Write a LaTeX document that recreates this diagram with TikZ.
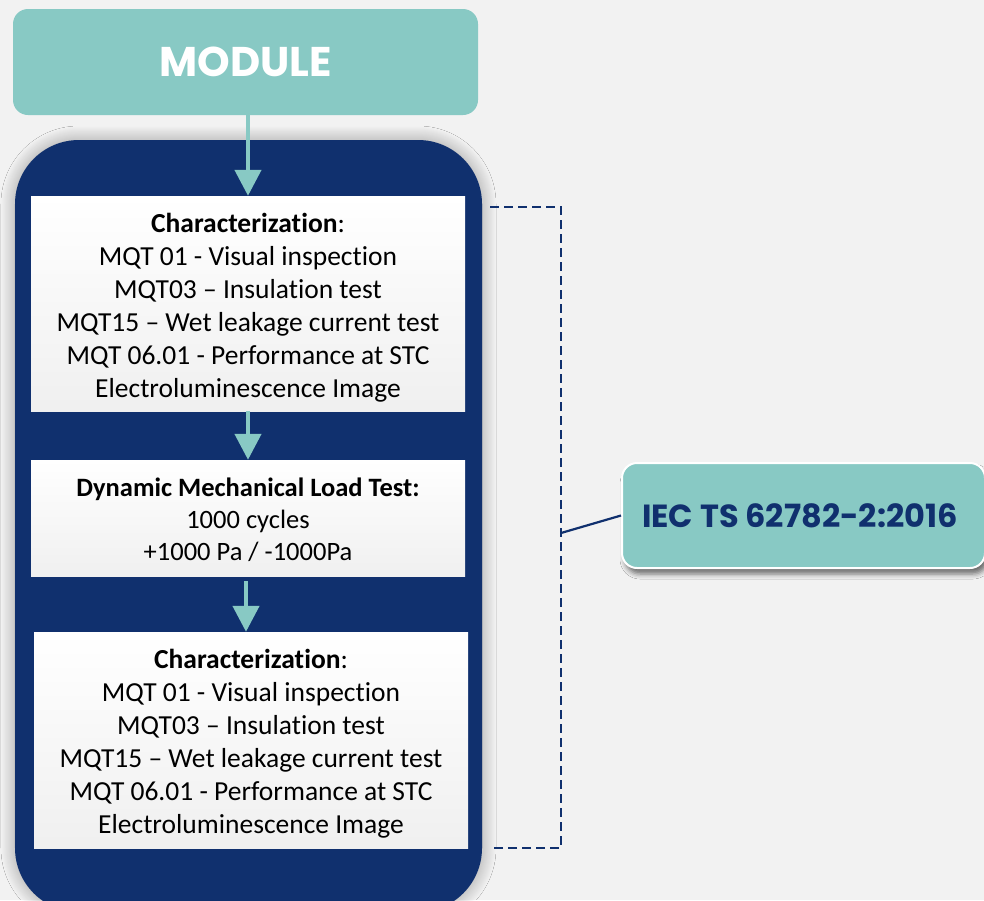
\documentclass[tikz,border=0pt]{standalone}
\usepackage{fontspec}
\setmainfont{Carlito}[Ligatures=NoCommon]
\newfontfamily\popp{Poppins}
\usetikzlibrary{arrows.meta,shadows.blur}
\definecolor{navy}{HTML}{10306E}
\definecolor{teal}{HTML}{88C9C4}
\definecolor{bg}{HTML}{F2F2F2}
\tikzset{
  stepbox/.style={rectangle, top color=white, bottom color=black!6, minimum width=434pt, inner sep=0pt},
  steptext/.style={align=center, inner sep=0pt, font=\fontsize{27.5}{33}\selectfont, text=black},
  arr/.style={draw=teal, line width=4.5pt, -{Triangle[width=26pt,length=26pt]}, shorten >=0pt},
  tealbox/.style={rectangle, rounded corners=15pt, fill=teal, inner sep=0pt},
  bracket/.style={draw=navy, line width=2.2pt, dash pattern=on 9pt off 5pt},
}
\begin{document}
\begin{tikzpicture}[x=1pt,y=-1pt]
\useasboundingbox (0,0) rectangle (984,900);
\fill[bg] (0,0) rectangle (984,900);
\clip (0,0) rectangle (984,900);
% navy container
\node[rectangle, rounded corners=64pt, fill=navy, minimum width=467pt, minimum height=772pt, inner sep=0pt,
  blur shadow={shadow xshift=0pt, shadow yshift=0pt, shadow blur radius=14pt, shadow blur steps=30, shadow opacity=35}]
  (cont) at (248.5,526) {};
% module
\node[tealbox, minimum width=465pt, minimum height=106pt, text=white, font=\popp\bfseries\fontsize{41.5}{41.5}\selectfont]
  (module) at (245.5,62) {MODULE};
% boxes
\node[stepbox, minimum height=215pt] (b1) at (248,303.5) {};
\node[steptext] (b1t) at ([yshift=-4pt]b1.center)
  {\textbf{Characterization}:\\ MQT 01 - Visual inspection\\ MQT03 -- Insulation test\\ MQT15 -- Wet leakage current test\\ MQT 06.01 - Performance at STC\\ Electroluminescence Image};
\node[stepbox, minimum height=116pt] (b2) at (248,518) {};
\node[steptext, font=\fontsize{26.5}{32}\selectfont] (b2t) at ([yshift=-2pt]b2.center)
  {\textbf{Dynamic Mechanical Load Test:}\\ 1000 cycles\\ +1000 Pa / -1000Pa};
\node[stepbox, minimum height=216pt] (b3) at (251,740) {};
\node[steptext] (b3t) at ([yshift=-4pt]b3.center)
  {\textbf{Characterization}:\\ MQT 01 - Visual inspection\\ MQT03 -- Insulation test\\ MQT15 -- Wet leakage current test\\ MQT 06.01 - Performance at STC\\ Electroluminescence Image};
% arrows
\draw[arr] (b1.north |- module.south) -- (b1.north);
\draw[arr] (b1.south) -- (b2.north);
\draw[arr] ([xshift=-2pt,yshift=-5pt]b2.south) -- ([xshift=-5pt]b3.north);
% IEC box
\node[tealbox, draw=white, line width=2pt, minimum width=363pt, minimum height=105pt, text=navy,
  font=\popp\bfseries\fontsize{32}{32}\selectfont,
  blur shadow={shadow xshift=3pt, shadow yshift=-6pt, shadow blur radius=5pt, shadow opacity=55}]
  (iec) at (803.5,515.5) {\hspace*{-7pt}IEC TS 62782-2:2016};
% bracket
\coordinate (bt) at (490,207);
\coordinate (bb) at (493,848);
\coordinate (bx) at (561,533);
\draw[bracket] (bt) -| (bx) |- (bb);
\draw[draw=navy, line width=2.2pt] (bx) -- (iec.west);
\end{tikzpicture}
\end{document}
